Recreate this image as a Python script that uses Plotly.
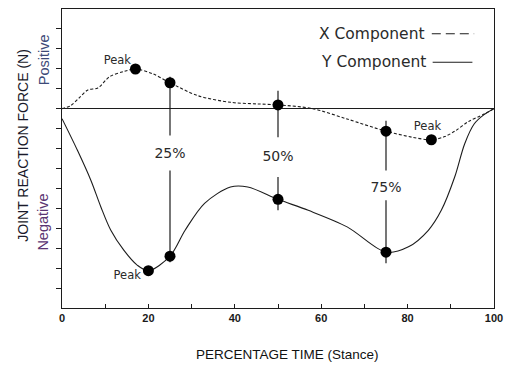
import plotly.graph_objects as go

# Joint reaction force over the stance phase (arbitrary force units, 0 = no load)
x_time = [0, 2, 4.1, 6, 8.3, 11, 14.4, 17, 21, 25, 31.5, 39, 45, 50, 58, 66, 75, 81, 85.5, 88.6, 91, 94, 97.7, 100]
x_force = [0, 0.15, 0.57, 0.94, 1.04, 1.6, 1.87, 1.99, 1.75, 1.3, 0.65, 0.32, 0.24, 0.19, 0.0, -0.52, -1.13, -1.43, -1.56, -1.4, -1.12, -0.66, -0.27, 0]

y_time = [0, 3.6, 6.7, 9, 11.3, 14.3, 17.4, 20, 25, 28.5, 33, 39, 43, 50, 57, 66, 75, 80.2, 84.8, 87.8, 90.9, 93.2, 95.4, 97.7, 100]
y_force = [-0.5, -2.1, -3.6, -4.93, -6.1, -7.1, -7.85, -8.13, -7.4, -6.1, -4.75, -3.93, -3.93, -4.55, -5.1, -5.93, -7.2, -6.93, -6.1, -5.1, -3.43, -1.77, -0.77, -0.3, 0]

# Highlighted points on each component
x_pts_time = [17, 25, 50, 75, 85.5]
x_pts_force = [1.99, 1.3, 0.19, -1.13, -1.56]
y_pts_time = [20, 25, 50, 75]
y_pts_force = [-8.13, -7.4, -4.55, -7.2]

# Stance-percentage guide lines (broken around their labels)
stance_marks = [25, 50, 75]
stance_labels = ["25%", "50%", "75%"]
guide_top = [1.6, 0.9, -0.6]
guide_gap_hi = [-1.35, -1.43, -3.1]
guide_gap_lo = [-3.1, -3.43, -4.6]
guide_bottom = [-7.7, -5.1, -7.75]
label_force = [-2.3, -2.43, -3.98]

# "Peak" callouts
peak_text_time = [12.8, 15.1, 84.6]
peak_text_force = [2.4, -8.4, -0.93]

x_ticks = [0, 10, 20, 30, 40, 50, 60, 70, 80, 90, 100]
x_tick_text = ["0", "", "20", "", "40", "", "60", "", "80", "", "100"]
y_ticks = [-9, -8, -7, -6, -5, -4, -3, -2, -1, 0, 1, 2, 3, 4]

INK = "#1c1c1c"

fig = go.Figure()

fig.add_trace(go.Scatter(
    x=x_time, y=x_force, mode="lines", line_shape="spline",
    line=dict(color=INK, width=1.1, dash="3px,2px", smoothing=0.9), hoverinfo="skip"))
fig.add_trace(go.Scatter(
    x=y_time, y=y_force, mode="lines", line_shape="spline",
    line=dict(color=INK, width=1.1, smoothing=0.9), hoverinfo="skip"))

gx, gy = [], []
for p, a, b, c, d in zip(stance_marks, guide_top, guide_gap_hi, guide_gap_lo, guide_bottom):
    gx += [p, p, None, p, p, None]
    gy += [a, b, None, c, d, None]
fig.add_trace(go.Scatter(x=gx, y=gy, mode="lines",
                         line=dict(color=INK, width=1.2), hoverinfo="skip"))

fig.add_trace(go.Scatter(x=x_pts_time, y=x_pts_force, mode="markers",
                         marker=dict(color="#000000", size=11)))
fig.add_trace(go.Scatter(x=y_pts_time, y=y_pts_force, mode="markers",
                         marker=dict(color="#000000", size=11)))

fig.add_trace(go.Scatter(x=stance_marks, y=label_force, mode="text", text=stance_labels,
                         textfont=dict(family="DejaVu Sans", size=14, color="#2a2a2a")))
fig.add_trace(go.Scatter(x=peak_text_time, y=peak_text_force, mode="text",
                         text=["Peak"] * len(peak_text_time),
                         textfont=dict(family="DejaVu Sans", size=11.5, color="#2a2a2a")))

annotations = [
    dict(text="X Component", x=0.845, y=0.917, xanchor="right", yanchor="middle"),
    dict(text="Y Component", x=0.847, y=0.822, xanchor="right", yanchor="middle"),
]
for a in annotations:
    a.update(xref="paper", yref="paper", showarrow=False,
             font=dict(family="DejaVu Sans", size=15.5, color="#2a2a2a"))

annotations += [
    dict(text="PERCENTAGE TIME (Stance)", xref="paper", yref="paper", x=0.523, y=-0.156,
         xanchor="center", yanchor="middle", showarrow=False,
         font=dict(family="Liberation Sans", size=13.5, color="#111111")),
    dict(text="JOINT REACTION FORCE (N)", xref="paper", yref="paper", x=-0.091, y=0.545,
         textangle=-90, xanchor="center", yanchor="middle", showarrow=False,
         font=dict(family="Liberation Sans", size=14, color="#1a1a2a")),
    dict(text="Positive", xref="paper", yref="paper", x=-0.043, y=0.83,
         textangle=-90, xanchor="center", yanchor="middle", showarrow=False,
         font=dict(family="Liberation Sans", size=14.5, color="#3d4a78")),
    dict(text="Negative", xref="paper", yref="paper", x=-0.043, y=0.287,
         textangle=-90, xanchor="center", yanchor="middle", showarrow=False,
         font=dict(family="Liberation Sans", size=14.5, color="#5a3572")),
]

shapes = [
    dict(type="line", xref="paper", yref="paper", x0=0.856, x1=0.954, y0=0.917, y1=0.917,
         line=dict(color=INK, width=1.1, dash="9px,5px")),
    dict(type="line", xref="paper", yref="paper", x0=0.858, x1=0.950, y0=0.822, y1=0.822,
         line=dict(color=INK, width=1.1)),
]

fig.update_layout(
    width=511, height=366,
    margin=dict(l=62, r=11, t=8, b=58),
    paper_bgcolor="white", plot_bgcolor="white",
    showlegend=False,
    annotations=annotations, shapes=shapes,
    xaxis=dict(range=[0, 100], tickvals=x_ticks, ticktext=x_tick_text,
               ticks="inside", ticklen=4, tickcolor=INK, tickwidth=1.2,
               showline=True, linecolor=INK, linewidth=1.4, mirror=True,
               showgrid=False, zeroline=False,
               tickfont=dict(family="Liberation Sans", size=11, color="#1a1a1a", weight="bold"),
               fixedrange=True),
    yaxis=dict(range=[-10, 5], tickvals=y_ticks, showticklabels=False,
               ticks="outside", ticklen=5, tickcolor=INK, tickwidth=1.2,
               showline=True, linecolor=INK, linewidth=1.4, mirror=True,
               showgrid=False, zeroline=True, zerolinecolor=INK, zerolinewidth=1.3,
               fixedrange=True),
)

fig.write_html("out.html")
